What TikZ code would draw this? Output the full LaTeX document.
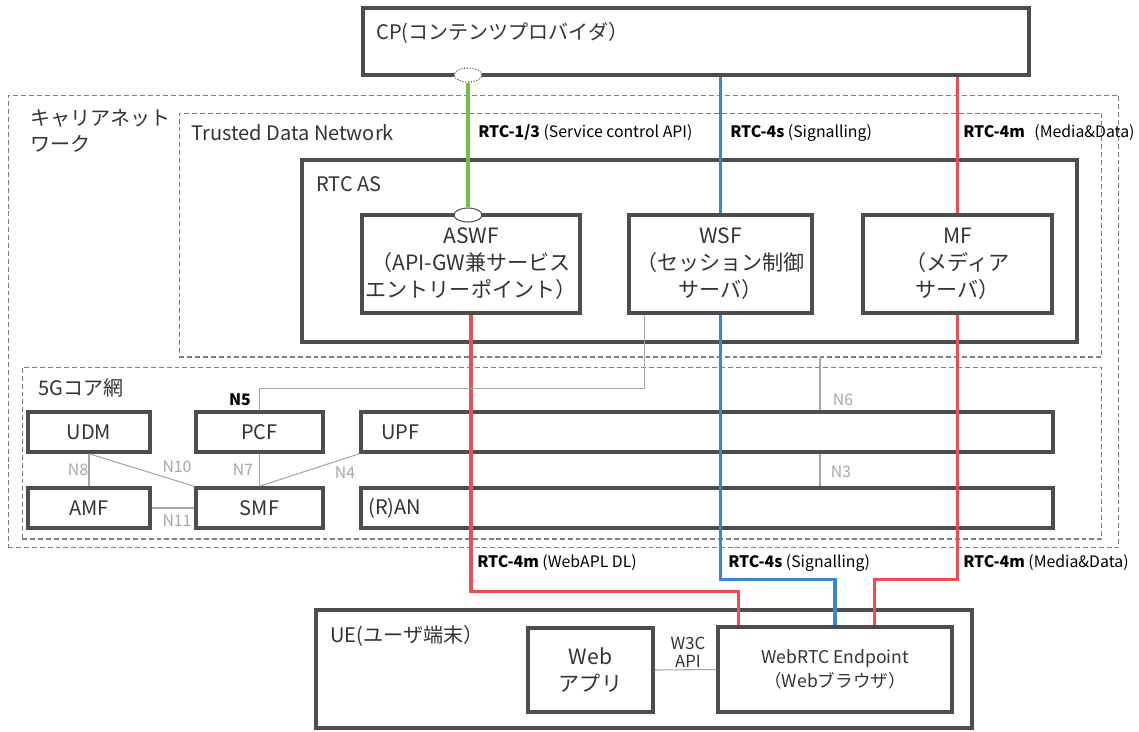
\documentclass[tikz,border=0pt]{standalone}
\usepackage{fontspec}
\setmainfont{Noto Sans CJK JP}
\usetikzlibrary{shapes.geometric}
\definecolor{boxgray}{HTML}{4D4D4D}
\definecolor{dashgray}{HTML}{808080}
\definecolor{ifgray}{HTML}{A6A6A6}
\definecolor{apigreen}{HTML}{72BF44}
\definecolor{sigblue}{HTML}{3A88D0}
\definecolor{mediared}{HTML}{EF4B53}

\begin{document}
\begin{tikzpicture}[x=0.02cm,y=-0.02cm,
  area/.style={draw=dashgray, line width=0.6pt, dash pattern=on 2.8pt off 1.7pt, inner sep=0pt},
  fbox/.style={draw=boxgray, line width=2pt, fill=white, inner sep=0pt, align=center, text=black!80, font=\fontsize{12}{15.4}\selectfont},
  sbox/.style={fbox, font=\fontsize{11.4}{14.8}\selectfont},
  ttl/.style={anchor=west, inner sep=0pt, align=left, text=black!80, font=\fontsize{11.4}{14.8}\selectfont},
  rtc/.style={anchor=west, inner sep=0pt, font=\fontsize{9}{11}\selectfont},
  nlbl/.style={inner sep=0pt, text=ifgray, font=\fontsize{9}{11}\selectfont},
  ifc/.style={ellipse, draw=boxgray, fill=white, line width=0.6pt, minimum width=0.56cm, minimum height=0.28cm, inner sep=0pt},
  ifl/.style={draw=ifgray, line width=0.6pt},
  api/.style={draw=apigreen, line width=1.8pt},
  sig/.style={draw=sigblue, line width=1.8pt},
  media/.style={draw=mediared, line width=1.8pt}]
\useasboundingbox (0,0) rectangle (1139,731);

% networks
\node[area, minimum width=22.22cm, minimum height=9.06cm] (carrier) at (563.5,321.5) {};
\node[area, minimum width=18.46cm, minimum height=4.88cm] (tdn) at (640.5,235) {};
\node[area, minimum width=21.6cm, minimum height=3.44cm] (core) at (562,453) {};
\node[ttl] (carriert) at (30,131) {キャリアネット\\ワーク};
\node[ttl] (tdnt) at (191,133) {Trusted Data Network};
\node[ttl] (coret) at (38,388) {5Gコア網};

% CP and RTC AS
\node[fbox, minimum width=13.32cm, minimum height=1.34cm] (cp) at (696,41.5) {};
\node[ttl] (cpt) at (376,33) {CP(コンテンツプロバイダ）};
\node[fbox, minimum width=15.5cm, minimum height=3.64cm] (rtcas) at (689.5,251) {};
\node[ttl] (rtcast) at (316,184) {RTC AS};
\node[fbox, minimum width=4.36cm, minimum height=1.96cm] (aswf) at (471,264) {ASWF\\（API-GW兼サービス\\エントリーポイント）};
\node[fbox, minimum width=3.66cm, minimum height=1.96cm] (wsf) at (720.5,264) {WSF\\（セッション制御\\サーバ）};
\node[fbox, minimum width=3.78cm, minimum height=1.96cm] (mf) at (957.5,264) {MF\\（メディア\\サーバ）};

% 5G core
\node[sbox, minimum width=2.44cm, minimum height=0.8cm] (udm) at (89,432) {UDM};
\node[sbox, minimum width=2.54cm, minimum height=0.8cm] (pcf) at (259.5,432) {PCF};
\node[sbox, minimum width=13.84cm, minimum height=0.8cm] (upf) at (707,432) {};
\node[sbox, minimum width=2.44cm, minimum height=0.8cm] (amf) at (89,508) {AMF};
\node[sbox, minimum width=2.54cm, minimum height=0.8cm] (smf) at (259.5,508) {SMF};
\node[sbox, minimum width=13.84cm, minimum height=0.8cm] (ran) at (707,508) {};
\node[ttl] (upft) at (381,432) {UPF};
\node[ttl] (rant) at (368,508) {(R)AN};

% UE
\node[fbox, minimum width=13.12cm, minimum height=2.36cm] (ue) at (644,669) {};
\node[ttl] (uet) at (330,636) {UE(ユーザ端末）};
\node[fbox, minimum width=2.5cm, minimum height=1.68cm] (app) at (590.5,670) {Web\\アプリ};
\node[sbox, minimum width=4.68cm, minimum height=1.7cm, font=\fontsize{10}{13.7}\selectfont] (ep) at (835,669.5) {WebRTC Endpoint\\（Webブラウザ）};

% interfaces
\node[ifc, densely dotted] (cpif) at (468,75) {};
\node[ifc] (aswfif) at (468,215) {};
\draw[api] (cpif.south) -- (aswfif.north);
\draw[sig] (cp.south -| wsf.north) -- (wsf.north);
\draw[sig] (wsf.south) -- ++(0,265) -| (ep.north);
\draw[media] (cp.south -| mf.north) -- (mf.north);
\draw[media] (mf.south) -- ++(0,265) -| ([xshift=3.16cm]ep.north west);
\draw[media] (aswf.south) -- ++(0,277) -| ([xshift=0.44cm]ep.north west);

\coordinate (n6) at (820,0);
\draw[ifl] ([xshift=0.34cm]wsf.south west) -- ++(0,74) -| (pcf.north);
\draw[ifl] (tdn.south -| n6) -- (upf.north -| n6);
\draw[ifl] (upf.south -| n6) -- (ran.north -| n6);
\draw[ifl] (udm.south) -- (amf.north);
\draw[ifl] (udm.south) -- (smf.north west);
\draw[ifl] (pcf.south) -- (smf.north);
\draw[ifl] (upf.south west) -- (smf.north);
\draw[ifl] (amf.east) -- (smf.west);
\draw[ifl] (app.east) -- (ep.west);

\node[rtc] (rtc13) at (478,133) {\textbf{RTC-1/3} (Service control API)};
\node[rtc] (rtc4s) at (730,133) {\textbf{RTC-4s} (Signalling)};
\node[rtc] (rtc4m) at (963,133) {\textbf{RTC-4m}\hspace{0.6em}(Media\&Data)};
\node[rtc] (rtc4mdl) at (477,563) {\textbf{RTC-4m} (WebAPL DL)};
\node[rtc] (rtc4sue) at (728,563) {\textbf{RTC-4s} (Signalling)};
\node[rtc] (rtc4mue) at (963,563) {\textbf{RTC-4m} (Media\&Data)};

\node[nlbl, text=black, font=\bfseries\fontsize{9}{11}\selectfont] (n5) at (240,400) {N5};
\foreach \t/\x/\y in {N6/843/400, N3/841/472, N8/78/470, N10/177/467, N7/243/470, N4/345/473, N11/177/521}
  \node[nlbl] (l\t) at (\x,\y) {\t};
\node[nlbl, text=black!80, align=center, font=\fontsize{9.5}{10.5}\selectfont] (w3c) at (688,652) {W3C\\API};
\end{tikzpicture}
\end{document}
